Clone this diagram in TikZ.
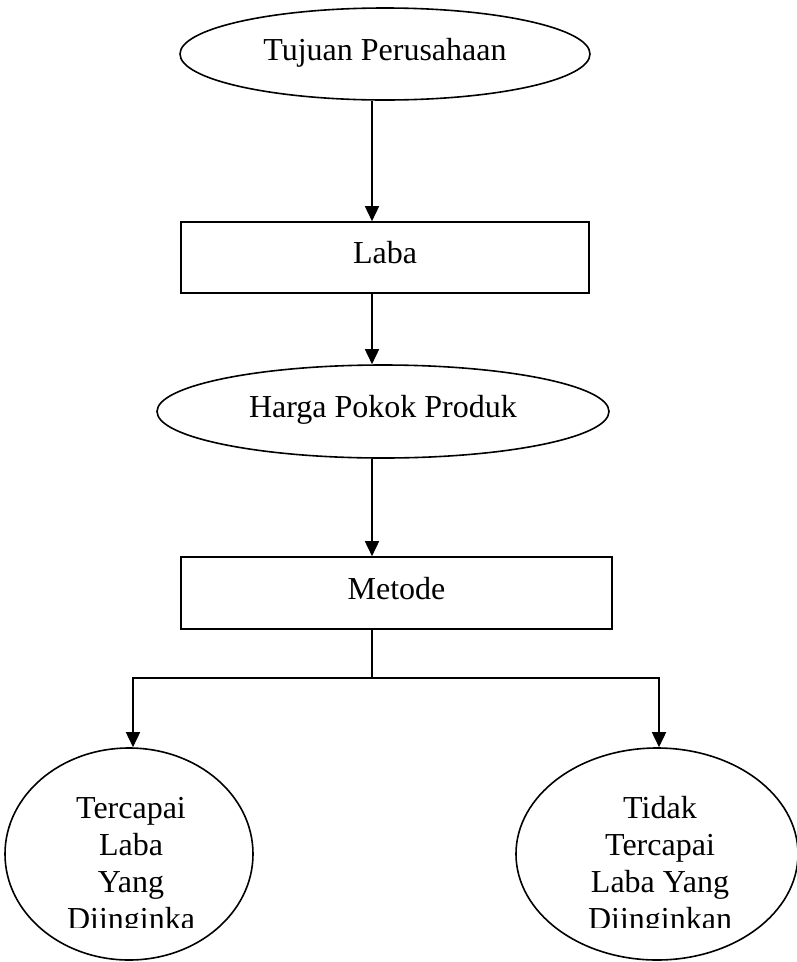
\documentclass[tikz,border=0pt]{standalone}
\usepackage{fontspec}
\setmainfont{Liberation Serif}
\usetikzlibrary{shapes.geometric,arrows.meta}
\newcommand{\stk}[1]{\vtop{\baselineskip=37pt\halign{\hfil##\hfil\cr#1\crcr}}}
\begin{document}
\begin{tikzpicture}[x=1pt,y=-1pt, line width=1.6pt,
  every node/.style={font=\fontsize{32}{37}\selectfont, inner sep=0pt},
  oval/.style={draw, ellipse, text height=22pt, text depth=10pt},
  box/.style={draw, rectangle, text height=22pt, text depth=10pt},
  arr/.style={-{Triangle[width=14pt,length=15pt]}}]
\useasboundingbox (0,0) rectangle (796,962);
\coordinate (ax) at (372,0);
\coordinate (lx) at (133,0);
\coordinate (rx) at (659,0);
\node[oval, minimum width=410pt, minimum height=92pt] (tujuan) at (385,54) {Tujuan Perusahaan};
\node[box, minimum width=408pt, minimum height=71pt] (laba) at (385,257.5) {Laba};
\node[oval, minimum width=452pt, minimum height=93pt] (harga) at (383,411.5) {Harga Pokok Produk};
\node[box, minimum width=431pt, minimum height=72pt] (metode) at (396.5,593) {Metode};
\node[draw, ellipse, minimum width=248pt, minimum height=212pt] (kiri) at (129,854) {};
\node[draw, ellipse, minimum width=282pt, minimum height=212pt] (kanan) at (657,854) {};
\coordinate (jn) at (372,678);
\begin{scope}
\clip (0,0) rectangle (796,927.5);
\node[anchor=base] (tk) at (131,818) {\stk{Tercapai\cr Laba\cr Yang\cr Diinginka}};
\node[anchor=base] (tn) at (660,818) {\stk{Tidak\cr Tercapai\cr Laba Yang\cr Diinginkan}};
\end{scope}
\draw[arr] (ax |- tujuan.south) -- (ax |- laba.north);
\draw[arr] (ax |- laba.south) -- (ax |- harga.north);
\draw[arr] (ax |- harga.south) -- (ax |- metode.north);
\draw (ax |- metode.south) -- (jn);
\draw[arr] (jn) -| (lx |- kiri.north);
\draw[arr] (jn) -| (rx |- kanan.north);
\end{tikzpicture}
\end{document}
